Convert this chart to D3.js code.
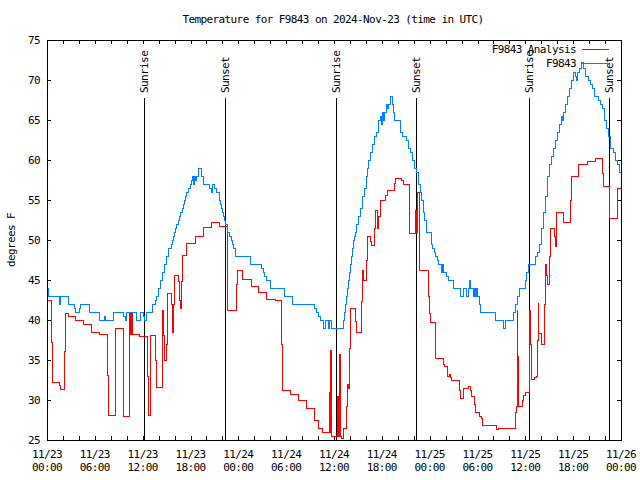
<!DOCTYPE html>
<html><head><meta charset="utf-8">
<script src="https://cdn.jsdelivr.net/npm/d3@7"></script>
<style>
body{margin:0;background:#fff}
text{font-family:"DejaVu Sans Mono",monospace;font-size:11px;letter-spacing:-0.6px;fill:#000}
</style>
</head><body><svg id="c" width="640" height="480"></svg>
<script>
// ---- data (hours since 2024-11-23 00:00 UTC, degrees F) ----
const obsSeries = [[0,44],[0.17,43],[1.55,42],[1.67,43],[2.68,42],[3.43,41.5],[3.55,41],[4.06,41.5],[4.18,42],[5.31,41],[6.56,40],[7.19,40.5],[7.32,40],[8.32,41],[9.57,40.5],[9.82,40],[9.95,41],[11.20,40],[11.75,41],[12.08,40.5],[12.25,40],[12.50,41],[13.25,42],[13.59,42.5],[13.75,43],[13.96,44],[14.21,45],[14.46,46],[14.72,47],[14.97,48],[15.22,49],[15.59,49.5],[15.72,50],[15.84,50.5],[15.97,51],[16.10,51.5],[16.22,52],[16.47,52.5],[16.60,53],[16.72,53.5],[16.97,54],[17.10,54.5],[17.22,55],[17.35,55.5],[17.47,56],[17.73,56.5],[17.98,57],[18.10,57.5],[18.23,58],[18.35,57],[18.48,58],[18.60,57.5],[18.73,58],[18.98,59],[19.44,58],[19.61,57],[20.36,56.5],[20.61,56],[20.74,57],[20.99,56.5],[21.24,56],[21.61,55],[21.74,54.5],[21.86,54],[21.99,53.5],[22.11,53],[22.24,52.5],[22.37,52],[22.62,51],[22.87,50.5],[23.12,50],[23.24,49.5],[23.37,49],[23.62,48],[25.54,47],[26.92,46.5],[27.17,46],[27.30,45.5],[27.55,45],[28.05,44],[29.81,43],[30.81,42],[33.57,41.5],[33.82,41],[34.07,40.5],[34.32,40],[34.70,39],[34.95,40],[35.33,39],[35.45,40],[35.70,39],[37.21,40],[37.33,41],[37.46,42],[37.58,43],[37.71,44],[37.83,45],[37.96,46],[38.08,47],[38.21,48],[38.34,49],[38.46,50],[38.59,50.5],[38.71,51],[38.84,52],[39.09,53],[39.34,54],[39.59,55.5],[39.84,56.5],[40.09,58],[40.22,59],[40.34,60],[40.59,61],[40.84,62],[41.09,63],[41.35,63.5],[41.60,65],[41.85,65.5],[41.97,64.5],[42.10,66],[42.22,65],[42.35,66],[42.60,67],[42.72,66.5],[42.85,67],[43.10,68],[43.35,67],[43.48,66],[43.60,65],[44.36,63.5],[44.61,63],[45.11,62.5],[45.36,61.5],[45.61,61],[45.86,60],[46.11,59],[46.36,58.5],[46.61,57],[46.86,56],[46.99,55],[47.20,53.5],[47.41,52.5],[47.62,51],[48.24,49.5],[48.37,49],[48.62,48.5],[48.75,48],[49.00,47.5],[49.12,47],[49.50,46],[49.62,47],[49.79,46],[50.13,45.5],[50.33,45],[50.96,44],[51.88,43],[52.26,44],[52.63,43],[52.88,44],[53.05,45],[53.18,44],[53.51,43],[53.64,44],[53.76,43],[53.89,44],[54.01,43],[54.22,42],[54.39,41],[56.31,40],[57.32,39],[57.57,40],[58.49,41],[58.74,42],[59.03,43],[59.28,44],[60.00,45],[60.16,46],[60.41,47],[61.25,48],[61.50,48.5],[61.75,49.5],[62.00,51.5],[62.25,53.5],[62.58,55.5],[62.83,58],[63.08,59.5],[63.34,60.5],[63.59,61.5],[63.84,62.5],[64.09,63.5],[64.34,64.5],[64.59,65.5],[64.72,65],[64.84,66],[65.09,67],[65.34,68],[65.59,69],[65.84,70],[66.09,71],[66.26,70.5],[66.43,70],[66.59,71],[66.84,71.5],[67.09,72.25],[67.34,71.5],[67.59,70.5],[67.92,70],[68.18,69.5],[68.43,69],[68.68,68],[69.18,67.5],[69.43,67],[69.69,66.5],[69.94,65],[70.19,64],[70.44,63],[70.69,61.5],[71.03,61],[71.28,60],[71.53,59.5],[71.78,58.5],[72,58.5]];

const anaSeries = [[0,42.5],[0.59,37.2],[0.71,32.2],[1.55,31.8],[1.71,31.3],[2.17,36.1],[2.30,40.8],[2.68,40.4],[3.55,40],[4.56,39.5],[5.56,38.5],[6.56,38.2],[7.57,33.1],[7.69,28.1],[8.57,39],[9.57,28],[10.33,40.8],[10.45,38.2],[10.58,40.8],[10.70,38.2],[11.58,38],[12.58,33],[12.71,28.1],[12.96,38.1],[13.59,35],[13.71,31.6],[14.46,41.25],[14.59,38.1],[14.72,35],[14.97,37],[15.09,43.3],[15.59,42],[15.72,38.5],[15.84,42],[15.97,45.6],[16.47,44.8],[16.60,42.5],[16.72,41.5],[16.85,44.8],[16.97,48.1],[17.52,49.6],[18.60,50.5],[19.61,51.6],[20.61,52.2],[21.61,51.7],[22.62,41.25],[23.71,42],[23.83,44.5],[23.95,46.2],[24.46,45.6],[24.58,45.1],[25.59,44.2],[26.59,43.5],[27.59,42.6],[28.60,42.5],[29.43,37],[29.56,31.2],[30.56,30.7],[31.56,30],[32.57,29],[33.57,27.5],[34.07,26.5],[34.57,25.9],[35.41,31],[35.50,25.9],[35.58,36.25],[35.70,25.4],[36.41,30.5],[36.53,25.4],[36.66,35.75],[36.79,25.4],[36.95,25.25],[37.21,26.5],[37.58,29.2],[37.71,31.9],[37.83,31.5],[37.96,36.5],[38.08,41.4],[38.71,39.8],[38.84,38.5],[39.46,42.3],[39.59,46.2],[39.72,44.9],[40.09,47.5],[40.21,50.5],[40.59,49.8],[40.72,49.3],[41.09,51.5],[41.21,53.75],[41.46,51.5],[41.59,53],[41.85,54.9],[42.52,55.6],[42.73,56.2],[43.56,57.1],[43.73,57.7],[44.52,57.5],[44.77,57],[45.53,50.8],[46.28,53.75],[46.40,51],[46.53,56],[46.70,46.25],[47.83,42.9],[48.00,40.8],[48.12,39.7],[48.74,35.2],[49.75,34.4],[49.87,34.2],[50.21,33],[50.46,33.2],[50.59,32.8],[50.71,32.5],[51.76,31.25],[51.88,30.2],[52.26,31.5],[52.89,31.7],[53.14,31.25],[53.26,30.4],[53.64,29.4],[53.76,28.5],[54.27,28],[54.52,27.7],[54.64,26.8],[56.40,26.3],[56.65,26.4],[57.73,26.5],[58.74,28.5],[58.91,29.2],[58.99,41.25],[59.07,35.4],[59.16,29.25],[59.66,30],[59.79,30.6],[60.00,31],[60.54,41.25],[60.62,36.9],[60.74,32.6],[61.16,32.8],[61.41,32.9],[61.50,37.5],[61.62,42.1],[61.71,38.3],[62.00,36.9],[62.42,41.9],[62.54,46.9],[62.67,45.6],[62.79,44.5],[63.04,48],[63.17,51.5],[63.71,50.4],[63.84,49.25],[63.92,53.5],[64.76,52.2],[65.68,55],[65.81,57.9],[66.72,59.5],[67.81,59.8],[68.85,60.2],[69.69,58.3],[69.77,56.7],[70.61,52.7],[71.53,56.5],[72,56.5]];

const sunEvents = [[12.21,"Sunrise"],[22.37,"Sunset"],[36.29,"Sunrise"],[46.28,"Sunset"],[60.41,"Sunrise"],[70.44,"Sunset"]];
const yTicks = [25,30,35,40,45,50,55,60,65,70,75];
const seriesNames = ["F9843 Analysis","F9843"];
const seriesColors = ["#ff0000","#0080ff"];
const titleText = "Temperature for F9843 on 2024-Nov-23 (time in UTC)";
const yLabel = "degrees F";

// ---- chart ----
const start = Date.UTC(2024,10,23,0,0);
const toDate = h => new Date(start + h*3600000);
const L=47,R=621,T=40,B=440;
const x = d3.scaleUtc().domain([toDate(0),toDate(72)]).range([L,R]);
const y = d3.scaleLinear().domain([25,75]).range([B,T]);

const svg = d3.select("#c");
svg.append("rect").attr("width",640).attr("height",480).attr("fill","#fff");

svg.append("text").attr("x",333).attr("y",23).attr("text-anchor","middle").text(titleText);

function styleAxis(g){
  g.select(".domain").remove();
  g.selectAll("line").attr("stroke","#000").attr("shape-rendering","crispEdges");
  g.attr("font-family",null).attr("font-size",null);
}
svg.append("g").attr("transform",`translate(0,${B})`)
  .call(d3.axisBottom(x).ticks(d3.utcHour.every(2)).tickSize(-4).tickFormat("")).call(styleAxis);
svg.append("g").attr("transform",`translate(0,${T})`)
  .call(d3.axisTop(x).ticks(d3.utcHour.every(2)).tickSize(-4).tickFormat("")).call(styleAxis);
svg.append("g").attr("transform",`translate(${L},0)`)
  .call(d3.axisLeft(y).tickValues(yTicks).tickSize(-4).tickPadding(7).tickFormat(d3.format("d"))).call(styleAxis);
svg.append("g").attr("transform",`translate(${R},0)`)
  .call(d3.axisRight(y).tickValues(yTicks).tickSize(-4).tickFormat("")).call(styleAxis);

const fmtD = d3.utcFormat("%m/%d"), fmtH = d3.utcFormat("%H:%M");
const xl = svg.append("g");
x.ticks(d3.utcHour.every(6)).forEach(d=>{
  xl.append("text").attr("x",x(d)).attr("y",458).attr("text-anchor","middle").text(fmtD(d));
  xl.append("text").attr("x",x(d)).attr("y",471).attr("text-anchor","middle").text(fmtH(d));
});

svg.append("text").attr("transform","translate(15,240) rotate(-90)").attr("text-anchor","middle").text(yLabel);

// sunrise / sunset markers
const sg = svg.append("g");
sunEvents.forEach(([h,lab])=>{
  const xx = Math.round(x(toDate(h)))+0.5;
  sg.append("line").attr("x1",xx).attr("x2",xx).attr("y1",B).attr("y2",98)
    .attr("stroke","#000").attr("stroke-width",1).attr("shape-rendering","crispEdges");
  sg.append("text").attr("transform",`translate(${xx+3.5},93) rotate(-90)`).attr("text-anchor","start").text(lab);
});

// data
const line = d3.line().x(d=>x(toDate(d[0]))).y(d=>y(d[1])).curve(d3.curveStepAfter);
[anaSeries, obsSeries].forEach((s,i)=>{
  svg.append("path").datum(s).attr("d",line).attr("fill","none")
    .attr("stroke",seriesColors[i]).attr("stroke-width",1).attr("shape-rendering","crispEdges");
});

// frame
svg.append("rect").attr("x",L).attr("y",T).attr("width",R-L).attr("height",B-T)
  .attr("fill","none").attr("stroke","#000").attr("shape-rendering","crispEdges");

// legend
const lg = svg.append("g");
seriesNames.forEach((n,i)=>{
  const yy = 49 + i*14;
  lg.append("text").attr("x",576).attr("y",yy+4).attr("text-anchor","end").text(n);
  lg.append("line").attr("x1",582).attr("x2",609).attr("y1",yy+0.5).attr("y2",yy+0.5)
    .attr("stroke",seriesColors[i]).attr("shape-rendering","crispEdges");
});
</script></body></html>
